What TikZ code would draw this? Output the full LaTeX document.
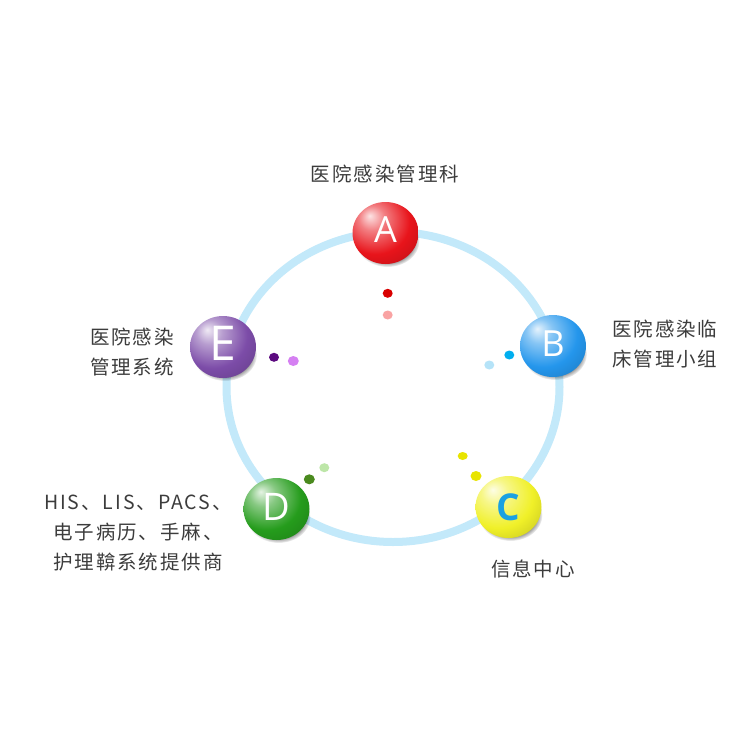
\documentclass[tikz,border=0pt]{standalone}
\usepackage{fontspec}
\newfontfamily\cjk[LetterSpace=10]{Noto Sans CJK SC}
\newfontfamily\ltr{Open Sans}
\newfontfamily\ltrb{Open Sans Bold}
\usetikzlibrary{fadings,shapes.geometric}
\definecolor{ringc}{HTML}{C3E9FA}
\definecolor{txtc}{HTML}{3C3C3C}
\definecolor{balla}{HTML}{E8141B}
\definecolor{ballb}{HTML}{2496EC}
\definecolor{ballc}{HTML}{F0F028}
\definecolor{balld}{HTML}{259C1C}
\definecolor{balle}{HTML}{7C4CA8}
\definecolor{cletter}{HTML}{1BA1E2}
\definecolor{dadark}{HTML}{D90000}\definecolor{dalight}{HTML}{F9A3A3}
\definecolor{dbdark}{HTML}{00AEEF}\definecolor{dblight}{HTML}{B5E3F8}
\definecolor{dcy}{HTML}{E8E400}
\definecolor{dgdark}{HTML}{4A8A1E}\definecolor{dglight}{HTML}{BDE6A8}
\definecolor{dpdark}{HTML}{5C0A80}\definecolor{dplight}{HTML}{D580F2}
\newcommand\mkballshade[2]{\pgfdeclareradialshading{shade#1}{\pgfpoint{-12bp}{14bp}}{color(0bp)=(#2!12!white); color(10bp)=(#2!55!white); color(26bp)=(#2); color(48bp)=(#2!75!black); color(72bp)=(#2!58!black)}}
\mkballshade{A}{balla}
\mkballshade{B}{ballb}
\mkballshade{C}{ballc}
\mkballshade{D}{balld}
\mkballshade{E}{balle}
\tikzset{
  ballnode/.style={ellipse, minimum width=66pt, minimum height=62pt, inner sep=0pt, shade, shading=shade#1},
  ballshadow/.style={fill=black, opacity=0.45, path fading=circle with fuzzy edge 20 percent},
  dotnode/.style={ellipse, inner sep=0pt, minimum width=10pt, minimum height=9pt, fill=#1},
  lbl/.style={font=\cjk\fontsize{19.5}{30}\selectfont, text=txtc, inner sep=0pt}
}
\begin{document}
\begin{tikzpicture}[x=1pt,y=-1pt]
\useasboundingbox (0,0) rectangle (750,750);
\fill[white] (0,0) rectangle (750,750);
% ring
\draw[ringc, line width=8pt] (393,387) ellipse (166.5 and 155);
% shadows
\foreach \x/\y in {385.5/233, 553/346, 508.5/507, 276.5/509, 223/347}
  \fill[ballshadow] (\x+2,\y+8) ellipse (32 and 26);
% balls
\node[ballnode=A] (A) at (385.5,233) {\raisebox{6pt}{\ltr\fontsize{36}{36}\selectfont\color{white}A}};
\node[ballnode=B] (B) at (553,346) {\raisebox{5pt}{\ltr\fontsize{36}{36}\selectfont\color{white}B}};
\node[ballnode=C] (C) at (508.5,507) {\raisebox{0pt}{\ltrb\fontsize{37}{37}\selectfont\color{cletter}C}};
\node[ballnode=D] (D) at (276.5,509) {\raisebox{5pt}{\ltr\fontsize{38}{38}\selectfont\color{white}D}};
\node[ballnode=E] (E) at (223,347) {\raisebox{7pt}{\ltr\fontsize{48}{48}\selectfont\color{white}E}};
% dots
\node[dotnode=dadark] (a1) at (387.7,293.3) {};
\node[dotnode=dalight] (a2) at (387.7,315) {};
\node[dotnode=dbdark] (b1) at (509.3,355) {};
\node[dotnode=dblight] (b2) at (489.3,365) {};
\node[dotnode=dcy, minimum width=10pt, minimum height=8pt] (c1) at (462.7,456) {};
\node[dotnode=dcy, minimum width=11pt, minimum height=10pt] (c2) at (476,476) {};
\node[dotnode=dgdark, minimum width=11pt, minimum height=10pt] (d1) at (309.3,479.3) {};
\node[dotnode=dglight] (d2) at (324.3,467.7) {};
\node[dotnode=dpdark] (e1) at (274,357.3) {};
\node[dotnode=dplight, minimum width=11pt, minimum height=10pt] (e2) at (293.3,361) {};
% labels
\node[lbl] (la) at (385,174) {医院感染管理科};
\node[lbl, anchor=west, align=left] (lb) at (612,344) {医院感染临\\床管理小组};
\node[lbl, align=center] (lc) at (533,569) {信息中心};
\node[lbl, align=center] (ld) at (138,533) {HIS、LIS、PACS、\\电子病历、手麻、\\护理鞥系统提供商};
\node[lbl, align=center] (le) at (132,352) {医院感染\\管理系统};
\end{tikzpicture}
\end{document}
